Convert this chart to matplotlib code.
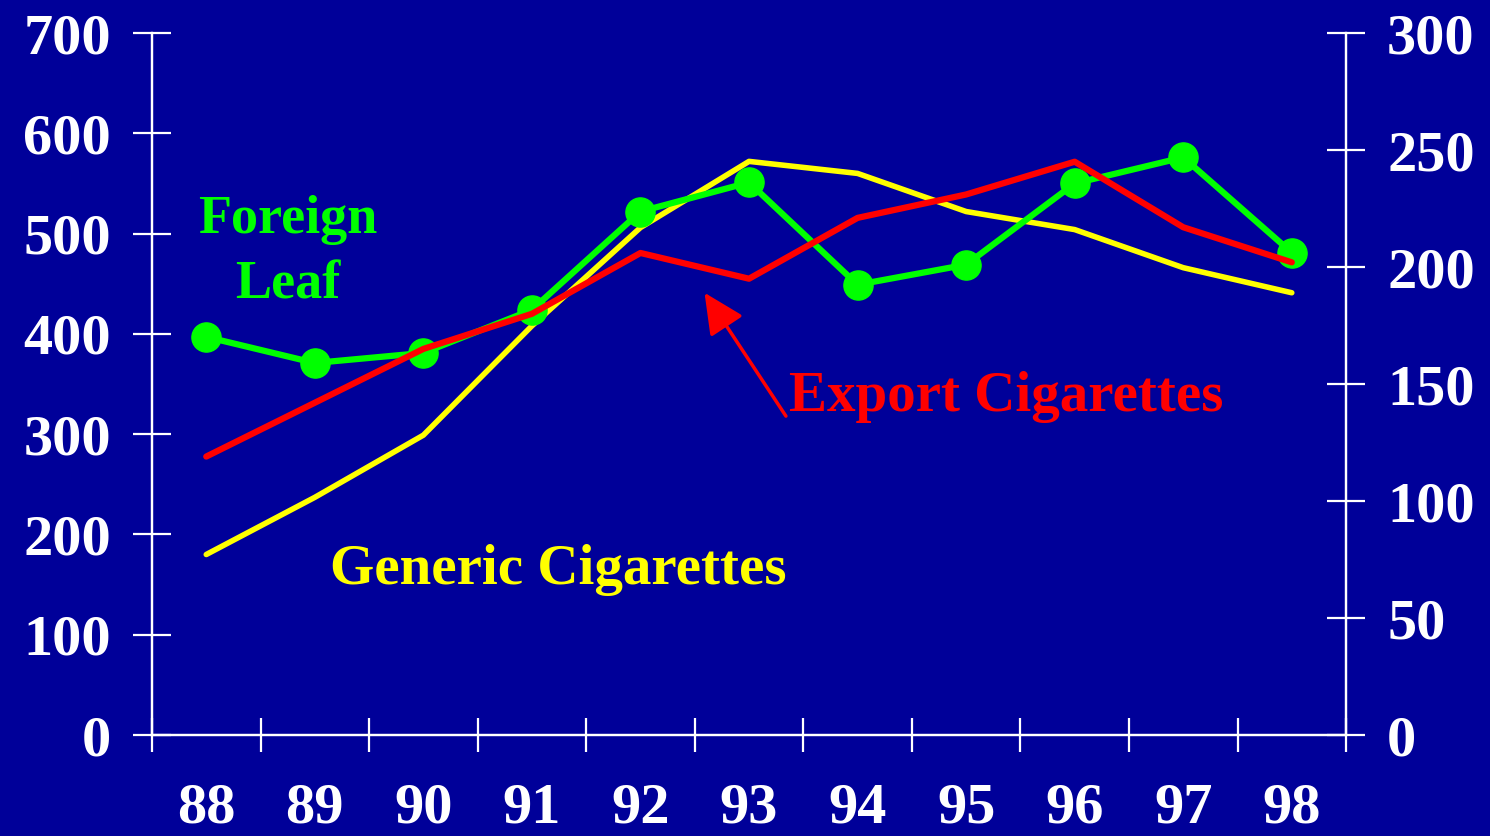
import matplotlib.pyplot as plt
import numpy as np

years = ['88', '89', '90', '91', '92', '93', '94', '95', '96', '97', '98']
foreign_leaf = [397, 371, 381, 424, 522, 551, 449, 469, 550, 576, 481]
generic_cigs = [180, 237, 299, 408, 506, 572, 560, 522, 504, 466, 441]
export_cigs = [119, 142, 165, 180, 206, 195, 221, 231, 245, 217, 202]  # right axis

BG = '#000099'
FONT = 'Liberation Serif'

fig = plt.figure(figsize=(14.9, 8.36), dpi=100, facecolor=BG)
ax = fig.add_axes([0.102, 0.1208, 0.8014, 0.8397])
ax.set_facecolor(BG)
ax2 = ax.twinx()

x = np.arange(len(years))

ax.plot(x, generic_cigs, color='#ffff00', lw=4, solid_capstyle='round', zorder=3)
ax.plot(x, foreign_leaf, color='#00ff00', lw=4.5, marker='o', markersize=21, zorder=4)
ax2.plot(x, export_cigs, color='#ff0000', lw=4.5, solid_capstyle='round', zorder=5)

ax.set_xlim(-0.5, 10.5)
ax.set_ylim(0, 700)
ax2.set_ylim(0, 300)
ax.set_yticks(np.arange(0, 701, 100))
ax2.set_yticks(np.arange(0, 301, 50))

# boundary ticks between years, labels centred on the years
ax.set_xticks(np.arange(-0.5, 11, 1))
ax.set_xticklabels([])
ax.set_xticks(x, minor=True)
ax.set_xticklabels(years, minor=True)

for a in (ax, ax2):
    a.spines['top'].set_visible(False)
    for s in ('left', 'right', 'bottom'):
        a.spines[s].set_color('white')
        a.spines[s].set_linewidth(1.6)

ax.tick_params(axis='x', which='major', direction='inout', length=24, width=1.6, color='white')
ax.tick_params(axis='x', which='minor', length=0, pad=34, labelcolor='white', labelsize=42)
ax.tick_params(axis='y', direction='inout', length=27, width=1.6, color='white', pad=16,
               labelcolor='white', labelsize=42)
ax2.tick_params(axis='y', direction='inout', length=27, width=1.6, color='white', pad=16,
                labelcolor='white', labelsize=42)
for lab in ax.get_xticklabels(minor=True) + ax.get_yticklabels() + ax2.get_yticklabels():
    lab.set_fontfamily(FONT)
    lab.set_fontweight('bold')

ax.text(0.75, 481, 'Foreign\nLeaf', color='#00ff00', fontfamily=FONT, fontweight='bold',
        fontsize=39, ha='center', va='center', linespacing=1.4)
ax.text(7.37, 337, 'Export Cigarettes', color='#ff0000', fontfamily=FONT, fontweight='bold',
        fontsize=41, ha='center', va='center')
ax.text(3.24, 165, 'Generic Cigarettes', color='#ffff00', fontfamily=FONT, fontweight='bold',
        fontsize=41, ha='center', va='center')

ax.annotate('', xy=(4.59, 441), xytext=(5.34, 318),
            arrowprops=dict(arrowstyle='-|>,head_length=2.5,head_width=1.2',
                            color='#ff0000', lw=2.5, shrinkA=0, shrinkB=0))

fig.savefig('out.png', dpi=100, facecolor=BG)
